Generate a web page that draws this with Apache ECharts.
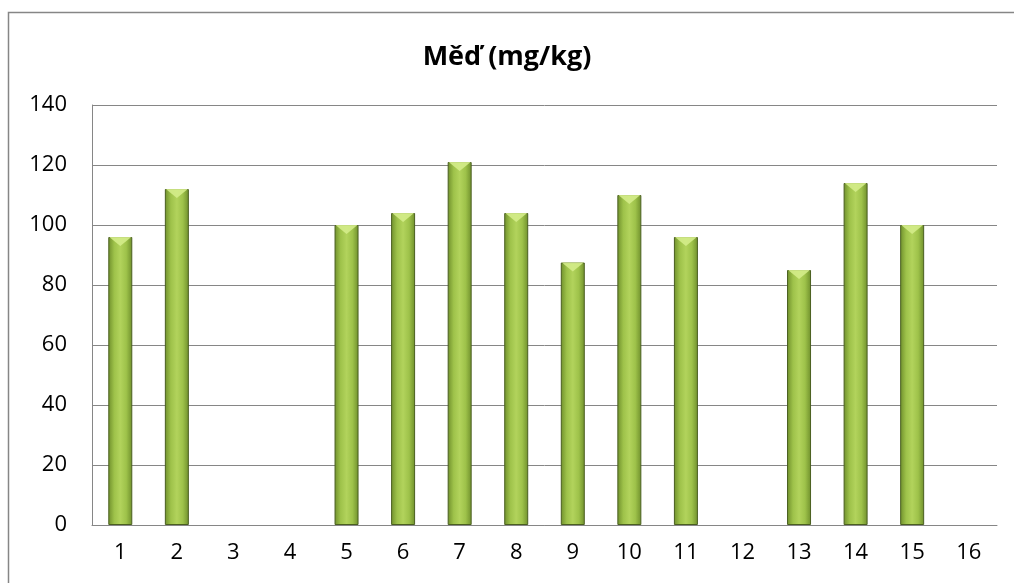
<!DOCTYPE html>
<html><head><meta charset="utf-8">
<script src="https://cdn.jsdelivr.net/npm/echarts@6/dist/echarts.min.js"></script>
<style>html,body{margin:0;padding:0;background:#fff}#c{width:1014px;height:583px}</style>
</head><body><div id="c"></div>
<script>
const categories = ['1','2','3','4','5','6','7','8','9','10','11','12','13','14','15','16'];
const values = [96, 112, null, null, 100, 104, 121, 104, 87.5, 110, 96, null, 85, 114, 100, null];
const yTicks = {min: 0, max: 140, interval: 20};
const title = 'Měď (mg/kg)';

const chart = echarts.init(document.getElementById('c'));
const barGrad = new echarts.graphic.LinearGradient(0, 0, 1, 0, [
  {offset: 0, color: '#6f8f2c'},
  {offset: 0.25, color: '#9ec24a'},
  {offset: 0.5, color: '#b2d35c'},
  {offset: 0.75, color: '#9ec24a'},
  {offset: 1, color: '#6f8f2c'}
]);
chart.setOption({
  animation: false,
  title: {text: title, left: 'center', top: 39, textStyle: {fontFamily: 'Open Sans', fontWeight: 'bold', fontSize: 27, color: '#000'}},
  graphic: [{type: 'rect', shape: {x: 8.5, y: 12.5, width: 1100, height: 700}, style: {fill: 'none', stroke: '#868686', lineWidth: 1.5}, silent: true}],
  grid: {left: 92, right: 17, top: 105, bottom: 58, containLabel: false},
  xAxis: {type: 'category', data: categories,
    axisLine: {lineStyle: {color: '#868686', width: 1}},
    axisTick: {show: false},
    axisLabel: {fontFamily: 'Open Sans', fontSize: 22, color: '#000', margin: 17}},
  yAxis: {type: 'value', min: yTicks.min, max: yTicks.max, interval: yTicks.interval,
    axisLine: {show: true, lineStyle: {color: '#868686', width: 1}},
    axisTick: {show: false},
    splitLine: {lineStyle: {color: '#868686', width: 1}},
    axisLabel: {fontFamily: 'Open Sans', fontSize: 22, color: '#000', margin: 25}},
  series: [
    {type: 'bar', data: values, barWidth: 24,
      itemStyle: {color: barGrad, borderColor: '#4a5f20', borderWidth: 1},
      z: 2},
    {type: 'pictorialBar', data: values, symbol: 'path://M0,0 L10,0 L5,4 Z',
      symbolSize: [22, 9], symbolPosition: 'end', symbolOffset: [0, 0],
      barGap: '-100%', itemStyle: {color: '#d4ec8a', opacity: 0.9}, z: 3, silent: true}
  ]
});
</script></body></html>
